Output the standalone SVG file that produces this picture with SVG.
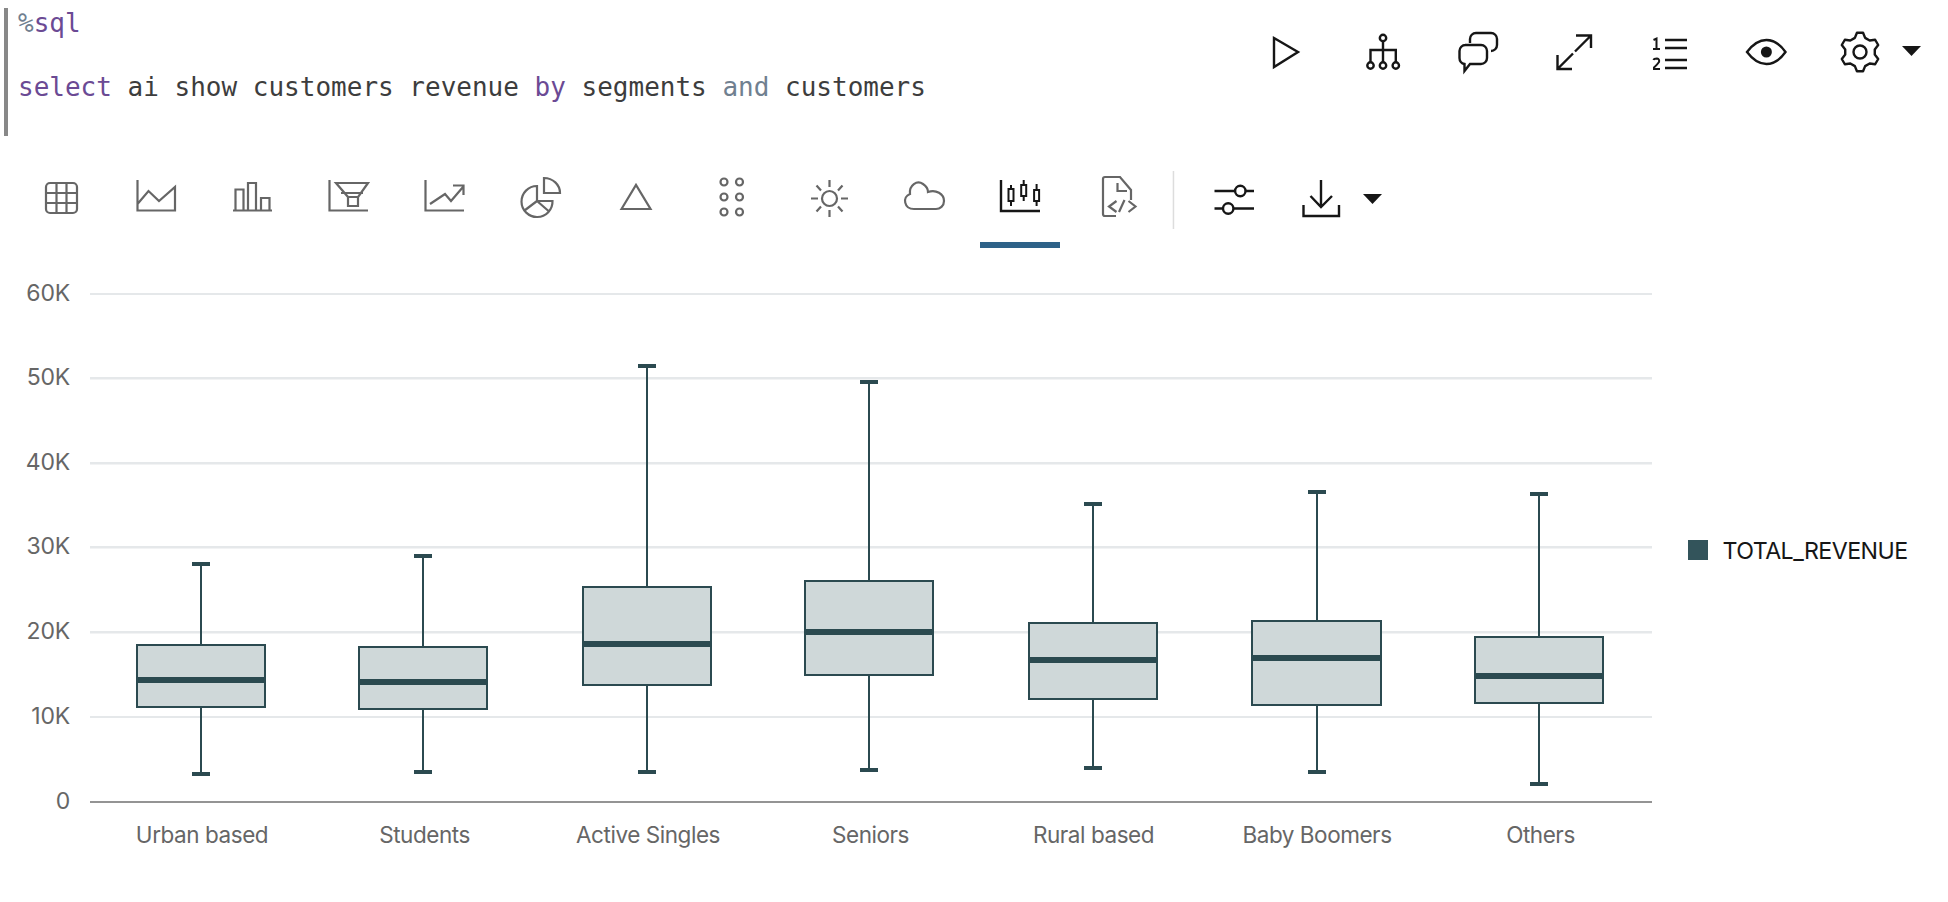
<svg xmlns="http://www.w3.org/2000/svg" width="1948" height="902" viewBox="0 0 1948 902">
<style>
.code{font:26px "DejaVu Sans Mono",monospace;fill:#3d3d3d}
.kw{fill:#6b4a94}.op{fill:#708090}
.tick{font:23px Inter,"Liberation Sans",sans-serif;fill:#666;letter-spacing:-.2px}
.cat{font:22.500px Inter,"Liberation Sans",sans-serif;fill:#666;text-anchor:middle;letter-spacing:-.45px}
.leg{font:23.200px Inter,"Liberation Sans",sans-serif;fill:#161616;letter-spacing:-.55px}
.grid{stroke:#e5e8ea;stroke-width:2.500}
.g1{stroke:#e5e8ea;stroke-width:2}
.ic{fill:none;stroke:#666;stroke-width:2.200;stroke-linecap:butt}
.id{fill:none;stroke:#161616;stroke-width:2.400}
.box{fill:#cfd8d9;stroke:#2b4a50;stroke-width:2}
.wh{stroke:#2b4a50;stroke-width:2;fill:none}
.cap{stroke:#2b4a50;stroke-width:4;fill:none}
.med{fill:#2b4a50}
</style>
<rect width="1948" height="902" fill="#fff"/>
<rect x="4" y="8" width="4" height="128" fill="#888"/>
<text class="code" x="18" y="32"><tspan class="op">%</tspan><tspan class="kw">sql</tspan></text>
<text class="code" x="18" y="96"><tspan class="kw">select</tspan> ai show customers revenue <tspan class="kw">by</tspan> segments <tspan class="op">and</tspan> customers</text>

<g id="cell-toolbar" class="id">
<path d="M1274 38L1298 52L1274 67Z"/>
<g><circle cx="1383" cy="38" r="3.200"/><path d="M1383 41V62M1370.500 62V50H1395.800V62"/><circle cx="1370.500" cy="65.500" r="3.200"/><circle cx="1383" cy="65.500" r="3.200"/><circle cx="1395.800" cy="65.500" r="3.200"/></g>
<g><path d="M1470 43V39a6 6 0 0 1 6-6H1491a6 6 0 0 1 6 6V45a6 6 0 0 1-6 6"/><path d="M1465 45H1481a6 6 0 0 1 6 6V58a6 6 0 0 1-6 6H1470L1464.500 71V64a6 6 0 0 1-5-6V51a6 6 0 0 1 6-6Z"/></g>
<path d="M1576 35.500H1591V48M1591 35.500L1575 51.500M1557.500 55V69H1572M1557.500 69L1573 53.500"/>
<g><path d="M1653.500 40L1656.500 38.500V49M1653 49H1660M1653.500 60Q1654 58.500 1657 58.500Q1659.800 59 1659 62Q1657 65 1654 67.500V69H1660" stroke-width="2"/><path d="M1665 40H1687M1665 48H1687M1665 60H1687M1665 68H1687"/></g>
<g><path d="M1747 52Q1756 40 1766.400 40Q1777 40 1785.500 52Q1777 64 1766.400 64Q1756 64 1747 52Z"/><circle cx="1766.400" cy="52" r="5.500" fill="#161616" stroke="none"/></g>
<g transform="translate(1860 52)"><polygon stroke-linejoin="round" points="-5.130,-14.100 -3.050,-19.260 3.050,-19.260 5.130,-14.100 9.650,-11.490 15.150,-12.270 18.200,-6.990 14.780,-2.610 14.780,2.610 18.200,6.990 15.150,12.270 9.650,11.490 5.130,14.100 3.050,19.260 -3.050,19.260 -5.130,14.100 -9.650,11.490 -15.150,12.270 -18.200,6.990 -14.780,2.610 -14.780,-2.610 -18.200,-6.990 -15.150,-12.270 -9.650,-11.490"/><circle r="6.500"/></g>
</g>
<polygon points="1902,46 1921,46 1911.500,56" fill="#161616"/>

<g id="chart-toolbar" class="ic">
<g><rect x="46" y="183" width="31" height="30" rx="4"/><path d="M56.500 183V213M66.500 183V213M46 193H77M46 203H77"/></g>
<path d="M137.500 180V210.500H175V187L159 201L148.500 191L137.500 204"/>
<path d="M233 210.500H272M235.500 210V189.500H243.500V210M248 210V183H256V210M261 210V198H269.500V210"/>
<g><path d="M329.500 180V210.500H368"/><path d="M336 183H368L358 197V206H348V197ZM341 193H363M348 197H358"/></g>
<g><path d="M425.500 180V210.500H464"/><path d="M430 204L445 194L451 201L463 187M453 185.500H463.500V195"/></g>
<g><path d="M537 186A15.500 15.500 0 1 0 552.500 201H537ZM537 201L524.500 210.500M537 201L548.500 211"/><path d="M544 178A16 15 0 0 1 560 193H544Z"/></g>
<path d="M621.500 209L636 185L650.500 209Z"/>
<g><circle cx="724" cy="182" r="3.500"/><circle cx="739.500" cy="182" r="3.500"/><circle cx="724" cy="197" r="3.500"/><circle cx="739.500" cy="197" r="3.500"/><circle cx="724" cy="212" r="3.500"/><circle cx="739.500" cy="212" r="3.500"/></g>
<g><circle cx="829.500" cy="198.500" r="7.500"/><path d="M829.500 180V187M829.500 210V217M811 198.500H818M841 198.500H848M816.500 185.500L821 190.500M842.500 185.500L838 190.500M816.500 211.500L821 206.500M842.500 211.500L838 206.500"/></g>
<path d="M914 209C904 209 902 197 910 194C909 185 917 180 923 184C926 186 928 189 928 192C936 189 944 194 944 201C944 206 940 209 936 209Z"/>
<g><path d="M1116 216H1105a2 2 0 0 1-2-2V179a2 2 0 0 1 2-2H1120L1131 190V200"/><path d="M1117.500 183V191H1127M1116.500 201L1109 206.500L1116.500 212M1124.500 200L1119 212M1128.500 201L1135.500 206.500L1128.500 212"/></g>
</g>
<g id="active-chart-icon" class="id">
<path d="M1001 180V211H1040"/>
<path d="M1011 185V206M1023.700 180V201M1036.600 184V206" stroke-width="2"/>
<rect x="1008.500" y="189" width="5" height="12" fill="#fff" stroke-width="2"/><rect x="1021.200" y="185" width="5" height="11" fill="#fff" stroke-width="2"/><rect x="1034.100" y="190" width="5" height="11" fill="#fff" stroke-width="2"/>
</g>
<rect x="980" y="242" width="80" height="6" fill="#2e6288"/>
<rect x="1172.700" y="171" width="1.500" height="58" fill="#ddd"/>
<g id="settings-icon" class="id">
<path d="M1214.500 191H1235M1245.500 191H1254M1214.500 208.500H1223M1233.500 208.500H1254"/><circle cx="1240.300" cy="191" r="5.200"/><circle cx="1228.200" cy="208.500" r="5.200"/>
</g>
<g id="download-icon" class="id">
<path d="M1321 180V206M1310.500 196L1321 207L1332 196M1303.500 205V216H1339V205"/>
</g>
<polygon points="1363,194 1382,194 1372.500,204" fill="#161616"/>

<g id="grid">
<path class="g1" d="M90 294H1652"/><path class="grid" d="M90 378.300H1652M90 463.300H1652M90 547.300H1652M90 632.300H1652"/><path class="g1" d="M90 717H1652"/>
<path d="M90 802H1652" stroke="#949494" stroke-width="2"/>
</g>
<g id="y-axis">
<text class="tick" x="70" y="301" text-anchor="end">60K</text>
<text class="tick" x="70" y="385" text-anchor="end">50K</text>
<text class="tick" x="70" y="470" text-anchor="end">40K</text>
<text class="tick" x="70" y="554" text-anchor="end">30K</text>
<text class="tick" x="70" y="639" text-anchor="end">20K</text>
<text class="tick" x="70" y="724" text-anchor="end">10K</text>
<text class="tick" x="70" y="809" text-anchor="end">0</text>
</g>
<g id="connectors">
<path class="wh" d="M201 566V645M201 707V772M423 558V647M423 709V770M647 368V587M647 685V770M869 384V581M869 675V768M1093 506V623M1093 699V766M1317 494V621M1317 705V770M1539 496V637M1539 703V782"/>
<path class="cap" d="M192 564H210M192 774H210M414 556H432M414 772H432M638 366H656M638 772H656M860 382H878M860 770H878M1084 504H1102M1084 768H1102M1308 492H1326M1308 772H1326M1530 494H1548M1530 784H1548"/>
</g>
<g id="urban-based"><rect class="box" x="137" y="645" width="128" height="62"/><rect class="med" x="137" y="677" width="128" height="6"/><text class="cat" x="202" y="843">Urban based</text></g>
<g id="students"><rect class="box" x="359" y="647" width="128" height="62"/><rect class="med" x="359" y="679" width="128" height="6"/><text class="cat" x="424.500" y="843">Students</text></g>
<g id="active-singles"><rect class="box" x="583" y="587" width="128" height="98"/><rect class="med" x="583" y="641" width="128" height="6"/><text class="cat" x="648" y="843">Active Singles</text></g>
<g id="seniors"><rect class="box" x="805" y="581" width="128" height="94"/><rect class="med" x="805" y="629" width="128" height="6"/><text class="cat" x="870.500" y="843">Seniors</text></g>
<g id="rural-based"><rect class="box" x="1029" y="623" width="128" height="76"/><rect class="med" x="1029" y="657" width="128" height="6"/><text class="cat" x="1093.500" y="843">Rural based</text></g>
<g id="baby-boomers"><rect class="box" x="1252" y="621" width="129" height="84"/><rect class="med" x="1252" y="655" width="129" height="6"/><text class="cat" x="1317" y="843">Baby Boomers</text></g>
<g id="others"><rect class="box" x="1475" y="637" width="128" height="66"/><rect class="med" x="1475" y="673" width="128" height="6"/><text class="cat" x="1540.500" y="843">Others</text></g>
<g id="legend"><rect x="1688" y="540" width="20" height="20" fill="#33545b"/><text class="leg" x="1722.500" y="558.500">TOTAL_REVENUE</text></g>
</svg>
